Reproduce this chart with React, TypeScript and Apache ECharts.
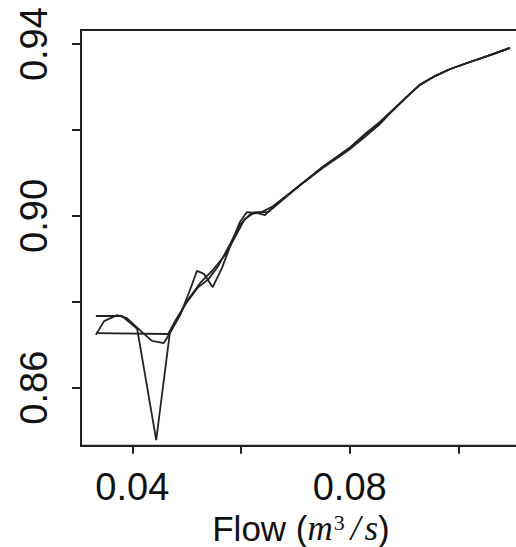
import React, { useEffect, useRef } from "react";
import * as echarts from "echarts";

// Curve with the deep V dip
const xsA = [0.0333, 0.0359, 0.0381, 0.0409, 0.0444, 0.0469, 0.0484, 0.0502, 0.0525, 0.0548, 0.0571, 0.0589, 0.0607, 0.0626, 0.0650, 0.0672,
  0.0709, 0.0751, 0.0801, 0.0832, 0.0855, 0.0880, 0.0905, 0.0929, 0.0953, 0.0985, 0.1016, 0.1053, 0.1095];
const ysA = [0.8767, 0.8767, 0.8767, 0.8737, 0.8478, 0.8727, 0.8762, 0.8804, 0.8844, 0.8874, 0.8909, 0.8951, 0.8993, 0.9009, 0.9009, 0.9032,
  0.9072, 0.9114, 0.9158, 0.9193, 0.9216, 0.9247, 0.9277, 0.9305, 0.9323, 0.9342, 0.9356, 0.9372, 0.9391];

// Wavy curve
const xsB = [0.0333, 0.0348, 0.0372, 0.0390, 0.0414, 0.0436, 0.0458, 0.0469, 0.0488, 0.0506, 0.0519, 0.0532, 0.0548, 0.0565, 0.0583, 0.0598, 0.0611, 0.0629, 0.0644, 0.0663,
  0.0709, 0.0751, 0.0801, 0.0832, 0.0855, 0.0880, 0.0905, 0.0929, 0.0953, 0.0985, 0.1016, 0.1053, 0.1095];
const ysB = [0.8723, 0.8755, 0.8769, 0.8762, 0.8734, 0.8709, 0.8704, 0.8727, 0.8769, 0.8827, 0.8872, 0.8865, 0.8834, 0.8879, 0.8939, 0.8986, 0.9009, 0.9007, 0.9002, 0.9025,
  0.9072, 0.9112, 0.9156, 0.9188, 0.9213, 0.9246, 0.9277, 0.9305, 0.9323, 0.9342, 0.9356, 0.9372, 0.9391];

// Flat-start curve
const xsC = [0.0333, 0.0466, 0.0480, 0.0499, 0.0521, 0.0539, 0.0558, 0.0580, 0.0598, 0.0617, 0.0638, 0.0657,
  0.0709, 0.0751, 0.0801, 0.0832, 0.0855, 0.0880, 0.0905, 0.0929, 0.0953, 0.0985, 0.1016, 0.1053, 0.1095];
const ysC = [0.8727, 0.8725, 0.8758, 0.8797, 0.8834, 0.8851, 0.8883, 0.8935, 0.8979, 0.9004, 0.9009, 0.9021,
  0.9072, 0.9115, 0.9160, 0.9195, 0.9218, 0.9248, 0.9277, 0.9305, 0.9323, 0.9342, 0.9356, 0.9372, 0.9391];

const xTicks = [0.04, 0.06, 0.08, 0.10];
const xTickLabels = [0.04, 0.08];
const yTicks = [0.86, 0.88, 0.90, 0.92, 0.94];
const yTickLabels = [0.86, 0.90, 0.94];

const zip = (xs: number[], ys: number[]) => xs.map((x, i) => [x, ys[i]]);

export default function App() {
  const ref = useRef<HTMLDivElement>(null);
  useEffect(() => {
    if (!ref.current) return;
    const chart = echarts.init(ref.current, null, { renderer: "svg" });
    const axisColor = "#222";
    const font = "Liberation Sans";
    const lineStyle = { color: "#222", width: 1.8 };
    chart.setOption({
      animation: false,
      backgroundColor: "#fff",
      grid: {
        left: 81,
        top: 30,
        width: 440,
        height: 415.7,
        show: true,
        borderColor: axisColor,
        borderWidth: 2,
        containLabel: false,
        outerBoundsMode: "none",
      },
      xAxis: {
        type: "value",
        min: 0.03056,
        max: 0.11152,
        splitLine: { show: false },
        axisLine: { show: true, lineStyle: { color: axisColor, width: 2 } },
        axisTick: { show: true, length: 8, lineStyle: { color: axisColor, width: 2 }, customValues: xTicks },
        axisLabel: {
          customValues: xTickLabels,
          formatter: (v: number) => v.toFixed(2),
          fontSize: 38,
          fontFamily: font,
          color: "#111",
          margin: 22,
        },
        name: "{a|Flow (}{i|m}{s|3}{sl|/}{i|s}{a|)}",
        nameLocation: "middle",
        nameGap: 54,
        nameTextStyle: {
          lineHeight: 34,
          rich: {
            a: { fontSize: 35, fontFamily: font, color: "#111", lineHeight: 34 },
            i: { fontSize: 35, fontFamily: "Liberation Serif", fontStyle: "italic", color: "#111", lineHeight: 34 },
            s: { fontSize: 22, fontFamily: "Liberation Serif", color: "#111", verticalAlign: "top", padding: [0, 3, 0, 1], lineHeight: 22 },
            sl: { fontSize: 35, fontFamily: "Liberation Serif", fontStyle: "italic", color: "#111", padding: [0, 4, 0, 3], lineHeight: 34 },
          },
        },
      },
      yAxis: {
        type: "value",
        min: 0.8465,
        max: 0.94328,
        splitLine: { show: false },
        axisLine: { show: true, lineStyle: { color: axisColor, width: 2 } },
        axisTick: { show: true, length: 9, lineStyle: { color: axisColor, width: 2 }, customValues: yTicks },
        axisLabel: {
          customValues: yTickLabels,
          formatter: (v: number) => v.toFixed(2),
          fontSize: 38,
          fontFamily: font,
          color: "#111",
          rotate: 90,
          margin: 28,
        },
      },
      series: [
        { type: "line", data: zip(xsA, ysA), showSymbol: false, lineStyle, z: 3 },
        { type: "line", data: zip(xsB, ysB), showSymbol: false, lineStyle, z: 3 },
        { type: "line", data: zip(xsC, ysC), showSymbol: false, lineStyle, z: 3 },
      ],
    });
    return () => chart.dispose();
  }, []);
  return <div ref={ref} style={{ position: "fixed", left: 0, top: 0, width: 516, height: 547 }} />;
}
